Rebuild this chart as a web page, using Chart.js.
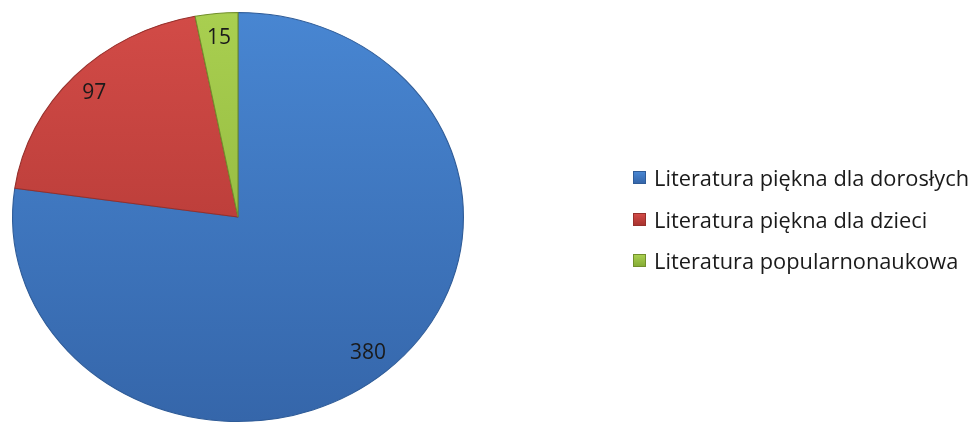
<!DOCTYPE html>
<html>
<head>
<meta charset="utf-8">
<script src="https://cdn.jsdelivr.net/npm/chart.js@4.4.1/dist/chart.umd.min.js"></script>
<style>
  html, body { margin: 0; padding: 0; background: #fff; }
  #wrap { position: relative; width: 975px; height: 425px; }
  #legend { position: absolute; left: 633px; top: 157px; font-family: 'Open Sans', sans-serif; font-size: 21.8px; color: #1a1a1a; }
  #legend div { height: 41.5px; display: flex; align-items: center; white-space: nowrap; }
  #legend span.sw { display: inline-block; width: 13px; height: 13px; margin-right: 8px; box-sizing: border-box; }
</style>
</head>
<body>
<div id="wrap">
  <canvas id="ch_pie" width="975" height="425"></canvas>
  <div id="legend"></div>
</div>
<script>
// data
const labels = ['Literatura piękna dla dorosłych', 'Literatura piękna dla dzieci', 'Literatura popularnonaukowa'];
const values = [380, 97, 15];
const lightColors = ['#4886d2', '#d24b47', '#a9cf50'];
const darkColors  = ['#3566aa', '#a9332f', '#86ad36'];
const edgeColors  = ['#2f5c98', '#96302c', '#728f2c'];

const SX = 226 / 205; // the pie in the picture is a touch wider than tall

function el(id) { return document.getElementById(id); }

// vertical light-to-dark shading per slice
function sliceFill(ctx) {
  const i = ctx.dataIndex;
  const area = ctx.chart.chartArea;
  if (!area || i === undefined) return lightColors[i || 0];
  const g = ctx.chart.ctx.createLinearGradient(0, area.top, 0, area.bottom);
  g.addColorStop(0, lightColors[i]);
  g.addColorStop(1, darkColors[i]);
  return g;
}

// stretch the arcs horizontally around the pie centre
const stretchPlugin = {
  id: 'stretch',
  beforeDatasetsDraw(chart) {
    const arc = chart.getDatasetMeta(0).data[0];
    if (!arc) return;
    const c = chart.ctx;
    c.save();
    c.translate(arc.x, arc.y);
    c.scale(SX, 1);
    c.translate(-arc.x, -arc.y);
  },
  afterDatasetsDraw(chart) {
    chart.ctx.restore();
  }
};

// value labels inside the slices
const valueLabels = {
  id: 'valueLabels',
  afterDraw(chart) {
    const c = chart.ctx;
    const meta = chart.getDatasetMeta(0);
    c.save();
    c.font = '21px "Open Sans", sans-serif';
    c.fillStyle = '#1a1a1a';
    c.textAlign = 'center';
    c.textBaseline = 'middle';
    meta.data.forEach((arc, i) => {
      const mid = (arc.startAngle + arc.endAngle) / 2;
      const r = arc.outerRadius * 0.88;
      c.fillText(String(values[i]), arc.x + Math.cos(mid) * r * SX, arc.y + Math.sin(mid) * r);
    });
    c.restore();
  }
};

new Chart(el('ch_pie').getContext('2d'), {
  type: 'pie',
  data: {
    labels,
    datasets: [{
      data: values,
      backgroundColor: sliceFill,
      borderColor: edgeColors,
      borderWidth: 1,
      hoverOffset: 0
    }]
  },
  options: {
    responsive: false,
    animation: false,
    layout: { padding: { top: 12, bottom: 3, left: 0, right: 499 } },
    plugins: {
      legend: { display: false },
      tooltip: { enabled: false }
    }
  },
  plugins: [stretchPlugin, valueLabels]
});

// legend
el('legend').innerHTML = labels.map((l, i) =>
  `<div><span class="sw" style="background:linear-gradient(${lightColors[i]},${darkColors[i]});border:1px solid ${edgeColors[i]}"></span>${l}</div>`
).join('');
</script>
</body>
</html>
